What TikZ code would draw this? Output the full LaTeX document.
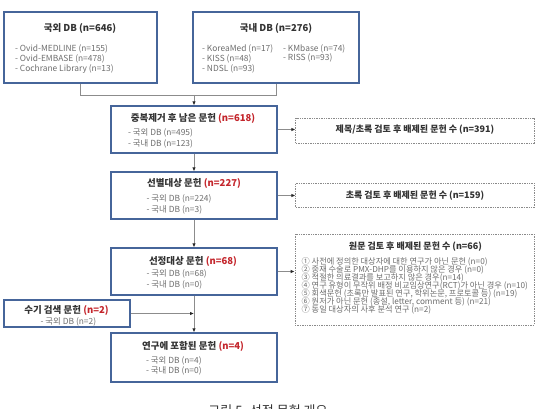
\documentclass[tikz,border=0pt]{standalone}
\usepackage{fontspec}
\setmainfont{Noto Sans CJK KR}
\usetikzlibrary{arrows.meta,calc}
\definecolor{boxblue}{HTML}{46659A}
\definecolor{ttl}{HTML}{333333}
\definecolor{itm}{HTML}{6E6E6E}
\definecolor{nred}{HTML}{C4262C}
\definecolor{conn}{HTML}{8C8C8C}
\definecolor{dgray}{HTML}{8A8A8A}
\begin{document}
\begin{tikzpicture}[x=1pt,y=-1pt,
  mainbox/.style={draw=boxblue,line width=1.2pt,fill=white,inner sep=0pt},
  dashbox/.style={draw=dgray,line width=0.6pt,dash pattern=on 1.4pt off 1pt,inner sep=0pt},
  title/.style={inner sep=0pt,anchor=base,text=ttl,font=\fontsize{9.5}{11}\selectfont\bfseries},
  dtitle/.style={inner sep=0pt,anchor=base,text=ttl,font=\fontsize{9}{10}\selectfont\bfseries},
  item/.style={inner sep=0pt,anchor=base west,text=itm,font=\fontsize{8.4}{10}\selectfont},
  sitem/.style={inner sep=0pt,anchor=base west,text=itm,font=\fontsize{8.2}{8.2}\selectfont},
  link/.style={draw=conn,line width=0.8pt},
  arr/.style={-{Latex[length=4pt,width=3.4pt,color=black!85]}}]
\useasboundingbox[fill=white] (0,0) rectangle (541,409);

% main boxes
\node[mainbox,minimum width=153pt,minimum height=71pt] (db1) at (80.5,47.5) {};
\node[mainbox,minimum width=166pt,minimum height=71pt] (db2) at (276,47.5) {};
\node[mainbox,minimum width=166pt,minimum height=47pt] (b3) at (194,129.5) {};
\node[mainbox,minimum width=166pt,minimum height=47pt] (b4) at (194,195.5) {};
\node[mainbox,minimum width=166pt,minimum height=47pt] (b5) at (194,271.5) {};
\node[mainbox,minimum width=126pt,minimum height=27pt] (b6) at (67,313.5) {};
\node[mainbox,minimum width=166pt,minimum height=49pt] (b7) at (194,357.5) {};

% dashed boxes
\node[dashbox,minimum width=238.5pt,minimum height=25pt] (d1) at (415,130.5) {};
\node[dashbox,minimum width=238.5pt,minimum height=24pt] (d2) at (415,195) {};
\node[dashbox,minimum width=239pt,minimum height=91pt] (d3) at (414.5,279.5) {};

% texts box 1
\node[title] (t1) at (80,31.6) {국외 DB (n=646)};
\node[item] (t1a) at (15,51.5) {- Ovid-MEDLINE (n=155)};
\node[item] (t1b) at (15,61.5) {- Ovid-EMBASE (n=478)};
\node[item] (t1c) at (15,71.5) {- Cochrane Library (n=13)};
% box 2
\node[title] (t2) at (276,31.6) {국내 DB (n=276)};
\node[item] (t2a) at (202,51.5) {- KoreaMed (n=17)};
\node[item] (t2b) at (202,61.5) {- KISS (n=48)};
\node[item] (t2c) at (202,71.5) {- NDSL (n=93)};
\node[item] (t2d) at (283,51.5) {- KMbase (n=74)};
\node[item] (t2e) at (283,60.8) {- RISS (n=93)};
% box 3
\node[title] (t3) at (193,121.3) {중복제거 후 남은 문헌 \textcolor{nred}{(n=618)}};
\node[item] (t3a) at (128,135.9) {- 국외 DB (n=495)};
\node[item] (t3b) at (128,146.2) {- 국내 DB (n=123)};
% box 4
\node[title] (t4) at (194,186.9) {선별대상 문헌 \textcolor{nred}{(n=227)}};
\node[item] (t4a) at (146.5,201.9) {- 국외 DB (n=224)};
\node[item] (t4b) at (146.5,212.5) {- 국내 DB (n=3)};
% box 5
\node[title] (t5) at (193,264.3) {선정대상 문헌 \textcolor{nred}{(n=68)}};
\node[item] (t5a) at (146.5,276.5) {- 국외 DB (n=68)};
\node[item] (t5b) at (146.5,287.5) {- 국내 DB (n=0)};
% box 6
\node[title] (t6) at (66.5,313.6) {수기 검색 문헌 \textcolor{nred}{(n=2)}};
\node[item] (t6a) at (40.5,324.2) {- 국외 DB (n=2)};
% box 7
\node[title] (t7) at (193,349.6) {연구에 포함된 문헌 \textcolor{nred}{(n=4)}};
\node[item] (t7a) at (146,363.2) {- 국외 DB (n=4)};
\node[item] (t7b) at (146,373.9) {- 국내 DB (n=0)};

% dashed texts
\node[dtitle] (u1) at (415,132.2) {제목/초록 검토 후 배제된 문헌 수 (n=391)};
\node[dtitle] (u2) at (415,198.3) {초록 검토 후 배제된 문헌 수 (n=159)};
\node[dtitle] (u3) at (415.5,249) {원문 검토 후 배제된 문헌 수 (n=66)};
\node[sitem] (v1) at (301.5,264.0) {① 사전에 정의한 대상자에 대한 연구가 아닌 문헌 (n=0)};
\node[sitem] (v2) at (301.5,272.1) {② 중재 수술로 PMX-DHP를 이용하지 않은 경우 (n=0)};
\node[sitem] (v3) at (301.5,280.2) {③ 적절한 의료결과를 보고하지 않은 경우(n=14)};
\node[sitem] (v4) at (301.5,288.3) {④ 연구 유형이 무작위 배정 비교임상연구(RCT)가 아닌 경우 (n=10)};
\node[sitem] (v5) at (301.5,296.4) {⑤ 회색문헌 (초록만 발표된 연구, 학위논문, 프로토콜 등) (n=19)};
\node[sitem] (v6) at (301.5,304.5) {⑥ 원저가 아닌 문헌 (종설, letter, comment 등) (n=21)};
\node[sitem] (v7) at (301.5,312.6) {⑦ 동일 대상자의 사후 분석 연구 (n=2)};

% connectors
\coordinate (m) at (194,95);
\draw[link] (db1.south) -- (db1.south |- m) -| (db2.south);
\draw[link,arr] (m) -- (b3.north);
\draw[link,arr] (b3.south) -- (b4.north);
\draw[link,arr] (b4.south) -- (b5.north);
\draw[link,arr] (b5.south) -- (b7.north);
\draw[link,arr] (b3.east) -- (b3.east -| d1.west);
\draw[link,arr] (b4.east) -- (b4.east -| d2.west);
\draw[link,arr] (b5.east) -- (b5.east -| d3.west);
\draw[link,arr] (b6.east) -- (b6.east -| b5.south);

% caption (cut off at the bottom edge, as in the reference)
\node[inner sep=0pt,anchor=center,text=ttl,font=\fontsize{13}{15}\selectfont] (cap) at (268,410.5) {그림 5. 선정 문헌 개요};
\end{tikzpicture}
\end{document}
